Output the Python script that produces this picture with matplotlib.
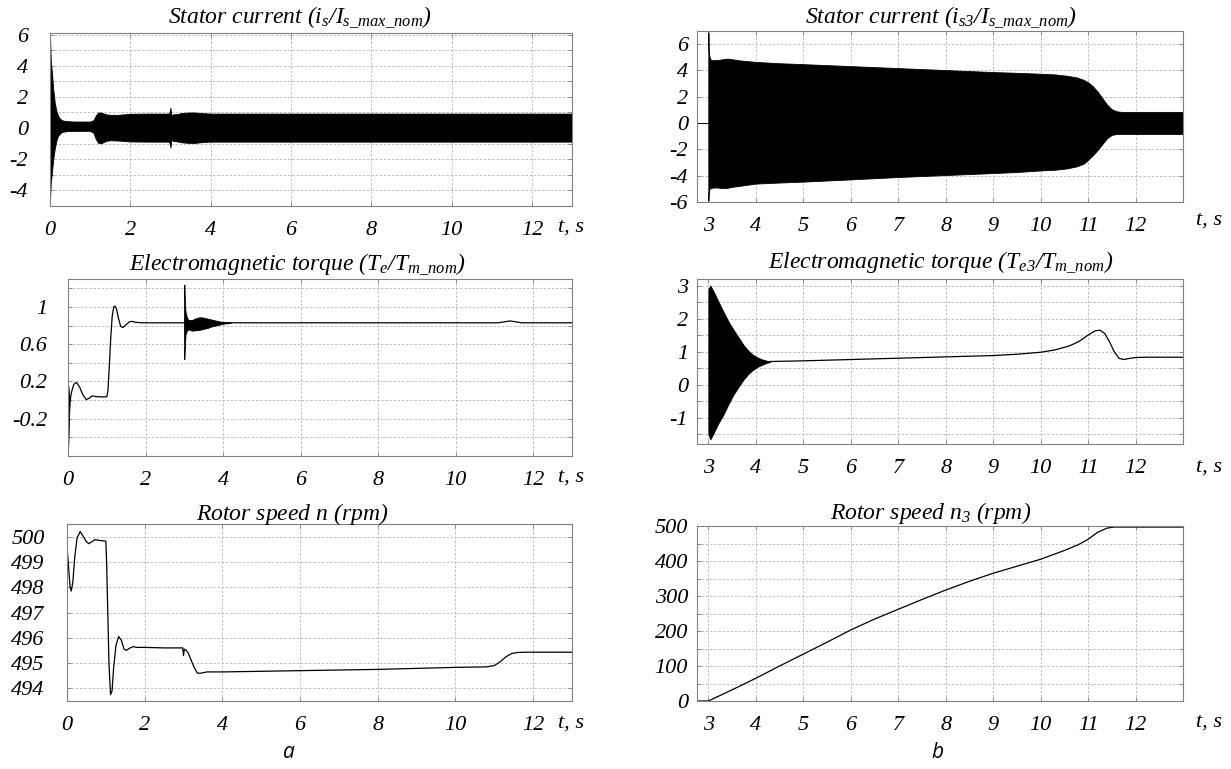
import numpy as np
import matplotlib.pyplot as plt

# ---- data ----
# (a) motor started directly, t = 0..13 s
t_is = [0, 0.005, 0.02, 0.05, 0.08, 0.12, 0.16, 0.2, 0.25, 0.3, 0.4, 0.6, 0.8, 1.0, 1.08, 1.14,
        1.2, 1.26, 1.32, 1.4, 1.5, 1.7, 2.0, 2.5, 2.97, 3.0, 3.02, 3.06, 3.15, 3.3, 3.45, 3.6,
        3.8, 4.0, 5.0, 13.0]
is_hi = [5.9, 5.5, 4.3, 3.5, 2.5, 1.6, 1.1, 0.8, 0.6, 0.5, 0.45, 0.42, 0.42, 0.42, 0.5, 0.8,
         1.0, 1.0, 0.95, 0.88, 0.85, 0.85, 0.92, 0.93, 0.93, 1.3, 0.8, 0.88, 0.9, 0.97, 1.0, 1.0,
         0.96, 0.93, 0.93, 0.93]
is_lo = [-4.7, -4.3, -3.5, -2.8, -2.0, -1.3, -0.8, -0.5, -0.35, -0.25, -0.2, -0.18, -0.18, -0.18,
         -0.3, -0.7, -0.95, -0.98, -0.92, -0.82, -0.78, -0.8, -0.86, -0.87, -0.87, -1.25, -0.75,
         -0.82, -0.85, -0.92, -0.95, -0.95, -0.9, -0.87, -0.87, -0.87]

t_te_start = [0.0, 0.01, 0.02, 0.03, 0.045, 0.06]
te_start_hi = [0.16, 0.15, 0.1, 0.05, 0.03, 0.02]
te_start_lo = [-0.55, -0.45, -0.3, -0.15, -0.02, 0.02]

t_te = [0.06, 0.1, 0.15, 0.22, 0.3, 0.38, 0.47, 0.55, 0.62, 0.7, 0.8, 0.9, 1.0, 1.03, 1.07, 1.1,
        1.14, 1.18, 1.21, 1.25, 1.3, 1.36, 1.42, 1.5, 1.58, 1.65, 1.75, 1.9, 2.0, 2.99, 11.1,
        11.25, 11.4, 11.55, 11.7, 11.85, 13.0]
te = [0.02, 0.1, 0.17, 0.19, 0.14, 0.06, 0.005, 0.02, 0.045, 0.04, 0.035, 0.035, 0.035, 0.1, 0.4,
      0.65, 0.9, 1.0, 1.01, 0.98, 0.88, 0.79, 0.78, 0.81, 0.84, 0.845, 0.835, 0.83, 0.83, 0.83,
      0.83, 0.84, 0.85, 0.84, 0.83, 0.83, 0.83]

t_te_load = [2.99, 3.0, 3.01, 3.03, 3.06, 3.1, 3.2, 3.3, 3.4, 3.5, 3.6, 3.7, 3.8, 3.9, 4.0, 4.1, 4.2]
te_load_hi = [0.83, 1.24, 1.1, 0.95, 0.9, 0.86, 0.86, 0.88, 0.89, 0.885, 0.875, 0.865, 0.855,
              0.845, 0.84, 0.835, 0.83]
te_load_lo = [0.83, 0.44, 0.55, 0.7, 0.74, 0.76, 0.745, 0.75, 0.755, 0.765, 0.775, 0.79, 0.8,
              0.81, 0.82, 0.825, 0.83]

t_n = [0, 0.04, 0.08, 0.11, 0.15, 0.2, 0.26, 0.34, 0.42, 0.5, 0.56, 0.64, 0.72, 0.8, 0.9, 1.0,
       1.02, 1.05, 1.08, 1.12, 1.16, 1.2, 1.26, 1.33, 1.4, 1.47, 1.53, 1.6, 1.7, 1.8, 2.0, 2.5,
       2.98, 3.0, 3.02, 3.06, 3.12, 3.2, 3.28, 3.36, 3.45, 3.6, 4.0, 6.0, 8.0, 10.0, 10.8, 11.0,
       11.15, 11.3, 11.45, 11.6, 11.8, 13.0]
n = [499.6, 498.8, 498.0, 497.85, 498.2, 499.2, 499.95, 500.2, 500.0, 499.8, 499.72, 499.8,
     499.88, 499.86, 499.84, 499.82, 499.0, 497.0, 495.0, 493.75, 493.9, 494.8, 495.7, 496.05,
     495.9, 495.55, 495.5, 495.58, 495.65, 495.62, 495.62, 495.6, 495.6, 495.3, 495.55, 495.52,
     495.4, 495.1, 494.8, 494.6, 494.6, 494.65, 494.65, 494.7, 494.75, 494.83, 494.85, 494.9,
     495.05, 495.25, 495.38, 495.42, 495.43, 495.43]

# (b) second motor, switched on at t = 3 s
t_is3 = [2.76, 2.999, 3.0, 3.005, 3.02, 3.05, 3.1, 3.2, 3.3, 3.4, 3.5, 3.7, 4.0, 4.5, 5.0, 6.0,
         7.0, 8.0, 9.0, 9.5, 10.0, 10.3, 10.55, 10.75, 10.9, 11.0, 11.1, 11.2, 11.3, 11.4, 11.5,
         11.6, 11.7, 12.0, 13.0]
is3_hi = [0, 0, 6.9, 5.5, 5.1, 4.8, 4.78, 4.8, 4.85, 4.9, 4.85, 4.75, 4.65, 4.55, 4.48, 4.33,
          4.18, 4.03, 3.88, 3.82, 3.75, 3.7, 3.6, 3.48, 3.3, 3.1, 2.8, 2.4, 1.9, 1.4, 1.05, 0.9,
          0.85, 0.85, 0.85]
is3_lo = [0, 0, -5.9, -5.3, -5.0, -4.95, -4.9, -4.9, -4.95, -4.92, -4.85, -4.75, -4.6, -4.52,
          -4.45, -4.28, -4.1, -3.95, -3.8, -3.72, -3.6, -3.55, -3.45, -3.3, -3.1, -2.8, -2.45,
          -2.05, -1.6, -1.15, -0.9, -0.83, -0.83, -0.83, -0.83]

t_te3_osc = [3.0, 3.04, 3.1, 3.2, 3.32, 3.42, 3.53, 3.64, 3.74, 3.84, 3.94, 4.05, 4.16, 4.3]
te3_hi = [2.9, 3.0, 2.85, 2.55, 2.2, 1.92, 1.66, 1.42, 1.2, 1.03, 0.9, 0.81, 0.75, 0.7]
te3_lo = [-1.5, -1.66, -1.5, -1.2, -0.9, -0.6, -0.3, -0.06, 0.15, 0.32, 0.45, 0.55, 0.62, 0.69]

t_te3 = [4.3, 5.0, 6.0, 7.0, 8.0, 9.0, 9.5, 10.0, 10.3, 10.6, 10.8, 11.0, 11.15, 11.25, 11.35,
         11.45, 11.55, 11.65, 11.75, 11.9, 12.0, 12.2, 13.0]
te3 = [0.7, 0.72, 0.76, 0.8, 0.84, 0.88, 0.92, 0.98, 1.05, 1.17, 1.3, 1.5, 1.63, 1.65, 1.55,
       1.3, 1.0, 0.8, 0.76, 0.8, 0.82, 0.83, 0.83]

t_n3 = [2.76, 3.0, 3.5, 4.0, 4.5, 5.0, 5.5, 6.0, 6.5, 7.0, 7.5, 8.0, 8.5, 9.0, 9.5, 10.0, 10.5,
        10.8, 11.0, 11.2, 11.4, 11.55, 13.0]
n3 = [0, 0, 32, 65, 100, 134, 168, 203, 234, 262, 290, 317, 342, 365, 385, 405, 430, 447, 462,
      482, 494, 497, 497]

# ---- figure ----
plt.rcParams['font.family'] = 'Liberation Serif'
plt.rcParams['font.style'] = 'italic'
plt.rcParams['mathtext.fontset'] = 'custom'
plt.rcParams['mathtext.it'] = 'Liberation Serif:italic'
plt.rcParams['mathtext.rm'] = 'Liberation Serif:italic'

W, H = 1231, 769
fig = plt.figure(figsize=(W / 100, H / 100), dpi=100)


def box(l, t, r, b):
    return [l / W, 1 - b / H, (r - l) / W, (b - t) / H]


def put(x, y, s, **kw):
    fig.text(x / W, 1 - y / H, s, **kw)


def style(ax, xlim, ylim, xt, xl, yt, yl, ygrid, xgrid, ypad):
    ax.set_xlim(xlim)
    ax.set_ylim(ylim)
    ax.set_xticks(xt)
    ax.set_xticklabels(xl)
    ax.set_yticks(yt)
    ax.set_yticklabels(yl)
    ax.set_xticks(xgrid, minor=True)
    ax.set_yticks(ygrid, minor=True)
    ax.set_axisbelow(True)
    ax.grid(which='both', color='#b5b5b5', linestyle=(0, (3, 2)), linewidth=0.6)
    ax.tick_params(which='both', direction='in', top=True, right=True, color='#808080',
                   length=3, width=0.6, labelsize=16)
    ax.tick_params(axis='x', pad=10.5)
    ax.tick_params(axis='y', pad=ypad)
    for s in ax.spines.values():
        s.set_color('#808080')
        s.set_linewidth(0.8)


xa = [0, 2, 4, 6, 8, 10, 12]
xa_lab = ['0', '2', '4', '6', '8', '10', '12']
xb = [3, 4, 5, 6, 7, 8, 9, 10, 11, 12]
xb_lab = [str(v) for v in xb]

# stator current (a)
ax = fig.add_axes(box(50, 33, 572, 206))
ax.fill_between(t_is, is_lo, is_hi, color='black', linewidth=0.6)
style(ax, (0, 13), (-5, 6.1), xa, xa_lab, [6, 4, 2, 0, -2, -4], ['6', '4', '2', '0', '-2', '-4'],
      [5, 3, 1, -1, -3, -5], [], 16)

# electromagnetic torque (a)
ax = fig.add_axes(box(68, 279, 572, 456))
ax.fill_between(t_te_start, te_start_lo, te_start_hi, color='black', linewidth=0.6)
ax.plot(t_te, te, color='black', linewidth=0.9)
ax.fill_between(t_te_load, te_load_lo, te_load_hi, color='black', linewidth=0.6)
style(ax, (0, 13), (-0.6, 1.3), xa, xa_lab, [1, 0.6, 0.2, -0.2], ['1', '0.6', '0.2', '-0.2'],
      [1.2, 0.8, 0.4, 0, -0.4], [], 15)

# rotor speed (a)
ax = fig.add_axes(box(67, 524, 572, 701))
ax.plot(t_n, n, color='black', linewidth=0.9)
style(ax, (0, 13), (493.5, 500.5), xa, xa_lab, [500, 499, 498, 497, 496, 495, 494],
      ['500', '499', '498', '497', '496', '495', '494'], [], [], 16)

# stator current (b)
ax = fig.add_axes(box(697, 31, 1183, 202))
ax.fill_between(t_is3, is3_lo, is3_hi, color='black', linewidth=0.6)
style(ax, (2.76, 13), (-6, 7), xb, xb_lab, [6, 4, 2, 0, -2, -4, -6],
      ['6', '4', '2', '0', '-2', '-4', '-6'], [], [], 6.5)

# electromagnetic torque (b)
ax = fig.add_axes(box(697, 279, 1183, 444))
ax.fill_between(t_te3_osc, te3_lo, te3_hi, color='black', linewidth=0.6)
ax.plot(t_te3, te3, color='black', linewidth=0.9)
style(ax, (2.76, 13), (-1.8, 3.2), xb, xb_lab, [3, 2, 1, 0, -1], ['3', '2', '1', '0', '-1'],
      [2.5, 1.5, 0.5, -0.5, -1.5], [], 6.5)

# rotor speed (b)
ax = fig.add_axes(box(697, 526, 1183, 701))
ax.plot(t_n3, n3, color='black', linewidth=0.9)
style(ax, (2.76, 13), (0, 500), xb, xb_lab, [0, 100, 200, 300, 400, 500],
      ['0', '100', '200', '300', '400', '500'], [50, 150, 250, 350, 450], [], 6.5)

# titles
tkw = dict(ha='center', va='baseline', fontsize=17)
put(300, 23, r'Stator current ($i_s/I_{s\_max\_nom}$)', **tkw)
put(297, 270, r'Electromagnetic torque ($T_e/T_{m\_nom}$)', **tkw)
put(292, 520, r'Rotor speed $n$ ($rpm$)', **tkw)
put(941, 23, r'Stator current ($i_{s3}/I_{s\_max\_nom}$)', **tkw)
put(941, 268, r'Electromagnetic torque ($T_{e3}/T_{m\_nom}$)', **tkw)
put(931, 519, r'Rotor speed $n_3$ ($rpm$)', **tkw)

# time axis labels
for y in (227, 477, 723):
    put(571, y, 't, s', ha='center', va='center', fontsize=16)
for y in (220, 467, 722):
    put(1209, y, 't, s', ha='center', va='center', fontsize=16)

put(289, 752, 'a', ha='center', va='center', fontsize=15, family='Open Sans', style='italic')
put(937, 752, 'b', ha='center', va='center', fontsize=15, family='Open Sans', style='italic')

fig.savefig('out.png', dpi=100)
